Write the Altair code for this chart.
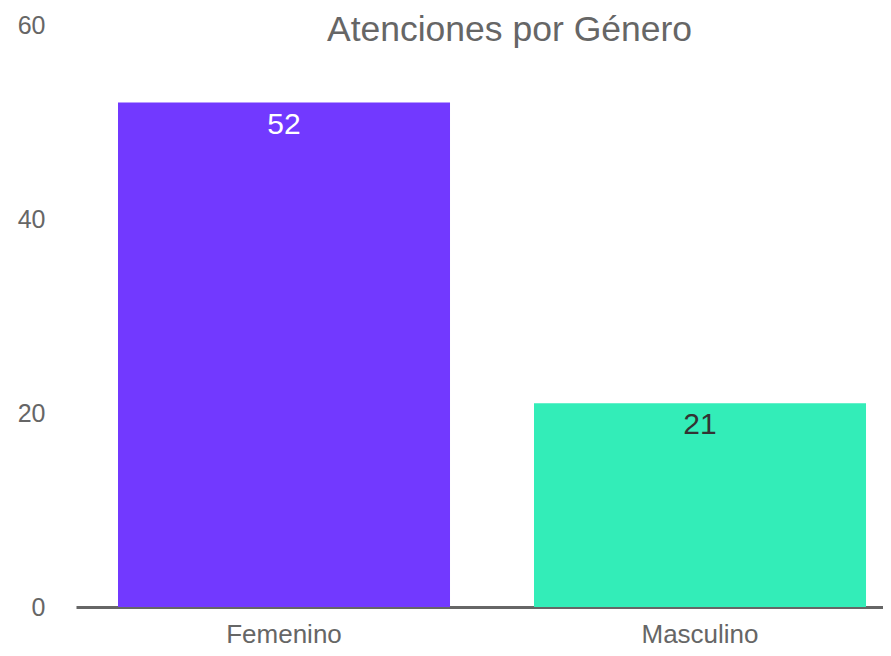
import altair as alt
import pandas as pd

categories = ["Femenino", "Masculino"]
values = [52, 21]
colors = ["#7239FF", "#33EDB8"]
label_colors = ["#FFFFFF", "#333333"]

df = pd.DataFrame({"genero": categories, "atenciones": values,
                   "color": colors, "lcolor": label_colors})

FONT = "Liberation Sans"

x = alt.X("genero:N", sort=categories, title=None,
          scale=alt.Scale(paddingInner=0.2019, paddingOuter=0.0709, align=0.712),
          axis=alt.Axis(labelAngle=0, labelFontSize=26, labelColor="#666666",
                        labelFont=FONT, ticks=False, labelPadding=35,
                        labelBaseline="alphabetic",
                        domainColor="#666666", domainWidth=3))
y = alt.Y("atenciones:Q", title=None,
          scale=alt.Scale(domain=[0, 60], nice=False),
          axis=alt.Axis(values=[0, 20, 40, 60], grid=False, domain=False,
                        ticks=False, labelPadding=31, labelFontSize=25,
                        labelColor="#666666", labelFont=FONT))

bars = alt.Chart(df).mark_bar().encode(
    x=x, y=y, color=alt.Color("color:N", scale=None))

labels = alt.Chart(df).mark_text(baseline="alphabetic", dy=31, fontSize=30, font=FONT).encode(
    x=alt.X("genero:N", sort=categories),
    y=alt.Y("atenciones:Q"),
    text=alt.Text("atenciones:Q"),
    color=alt.Color("lcolor:N", scale=None))

chart = alt.layer(bars, labels).properties(
    width=807, height=582,
    title=alt.TitleParams("Atenciones por Género", fontSize=35.5, font=FONT,
                          fontWeight="normal", color="#666666", anchor="middle",
                          offset=0, baseline="alphabetic", dx=30, dy=63),
    autosize=alt.AutoSizeParams(type="none"),
    padding={"left": 68, "top": 17, "right": 0, "bottom": 41},
).configure_view(stroke=None)

chart.save("out.html", embed_options={"renderer": "svg", "actions": False})
